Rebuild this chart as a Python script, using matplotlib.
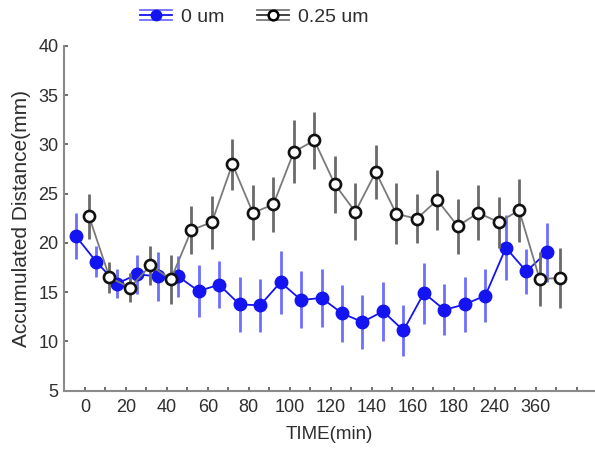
import matplotlib
matplotlib.use("Agg")
import matplotlib.pyplot as plt
import numpy as np
from matplotlib.legend_handler import HandlerBase
from matplotlib.lines import Line2D

tick_labels = ["0", "20", "40", "60", "80", "100", "120", "140", "160", "180", "240", "360"]

blue_vals = [20.7, 18.1, 15.85, 16.8, 16.6, 16.6, 15.1, 15.75, 13.75, 13.65, 16.0, 14.2,
             14.4, 12.85, 11.95, 13.05, 11.1, 14.9, 13.2, 13.75, 14.65, 19.5, 17.1, 19.05]
blue_err = [2.3, 1.6, 1.5, 2.0, 2.5, 2.1, 2.6, 2.4, 2.8, 2.7, 3.2, 2.9,
            2.9, 2.9, 2.75, 3.0, 2.6, 3.1, 2.6, 2.8, 2.7, 3.3, 2.3, 3.0]
black_vals = [22.7, 16.5, 15.45, 17.7, 16.3, 21.3, 22.1, 28.0, 23.05, 23.9, 29.25, 30.4,
              25.95, 23.15, 27.2, 22.95, 22.45, 24.35, 21.7, 23.05, 22.1, 23.3, 16.3, 16.45]
black_err = [2.3, 1.6, 1.5, 2.0, 2.5, 2.4, 2.7, 2.6, 2.8, 2.8, 3.2, 2.9,
             2.9, 2.9, 2.7, 3.1, 2.5, 3.05, 2.8, 2.8, 2.6, 3.2, 2.75, 3.05]

plt.rcParams['font.family'] = ['Liberation Sans', 'DejaVu Sans']

fig = plt.figure(figsize=(5.95, 4.51), dpi=100)
ax = fig.add_axes([64/595, 1 - 390.5/451, 1 - 64/595, (390.5 - 46)/451])

idx = np.arange(len(blue_vals))
BLUE = "#1414f0"
BLUE_ERR = "#6e6eff"
GREY = "#7a7a7a"
TXT = "#2e2e2e"

ax.errorbar(idx - 0.45, blue_vals, yerr=blue_err, fmt='-o', color=BLUE, ecolor=BLUE_ERR,
            elinewidth=2, capsize=0, markersize=9, lw=1.3, zorder=2)
ax.errorbar(idx + 0.2, black_vals, yerr=black_err, fmt='-o', color=GREY, ecolor="#6a6a6a",
            elinewidth=2, capsize=0, markersize=8, mfc='white', mec='#111111', mew=1.9,
            lw=1.3, zorder=3)

ax.set_xlim(-1.02, 24.9)
ax.set_ylim(5, 40)
ax.set_yticks(np.arange(5, 41, 5))
ax.set_xticks(np.arange(0, 25))
labels = []
for i in range(25):
    if i % 2 == 0 and i // 2 < len(tick_labels):
        labels.append(tick_labels[i // 2])
    else:
        labels.append("")
ax.set_xticklabels(labels)

for s in ["top", "right"]:
    ax.spines[s].set_visible(False)
for s in ["left", "bottom"]:
    ax.spines[s].set_color("#8a8a8a")
    ax.spines[s].set_linewidth(1.5)

ax.tick_params(axis='both', direction='in', length=3, width=1.2, color="#555555",
               labelsize=13, labelcolor=TXT)
ax.tick_params(axis='x', pad=6)
ax.tick_params(axis='y', pad=4)

ax.set_xlabel("TIME(min)", fontsize=13.5, color=TXT, labelpad=7)
ax.set_ylabel("Accumulated Distance(mm)", fontsize=15, color=TXT, labelpad=5)


class ErrHandler(HandlerBase):
    def __init__(self, color, ecolor, mfc, mec, ms, mew):
        super().__init__()
        self.c = color; self.ec = ecolor; self.mfc = mfc; self.mec = mec
        self.ms = ms; self.mew = mew

    def create_artists(self, legend, orig_handle, xdescent, ydescent, width, height, fontsize, trans):
        arts = []
        yc = height / 2 - ydescent
        for dy, col in [(0, self.c), (height * 0.4, self.ec), (-height * 0.4, self.ec)]:
            l = Line2D([-xdescent, width - xdescent], [yc + dy, yc + dy], color=col, lw=1.3, transform=trans)
            arts.append(l)
        m = Line2D([(width) / 2 - xdescent], [yc], marker='o', color=self.c, mfc=self.mfc,
                   mec=self.mec, ms=self.ms, mew=self.mew, transform=trans, ls='none')
        arts.append(m)
        return arts


h1 = Line2D([], [])
h2 = Line2D([], [])
fig.legend([h1, h2], ["0 um", "0.25 um"], loc='center', bbox_to_anchor=(254/595, 1 - 17/451),
           ncol=2, frameon=False, fontsize=14, handlelength=1.65, columnspacing=1.7,
           handletextpad=0.45, labelcolor=TXT,
           handler_map={h1: ErrHandler(BLUE, BLUE_ERR, BLUE, BLUE, 7.5, 1),
                        h2: ErrHandler("#333333", GREY, 'white', 'black', 7, 1.8)})

fig.savefig("out.png", dpi=100)
